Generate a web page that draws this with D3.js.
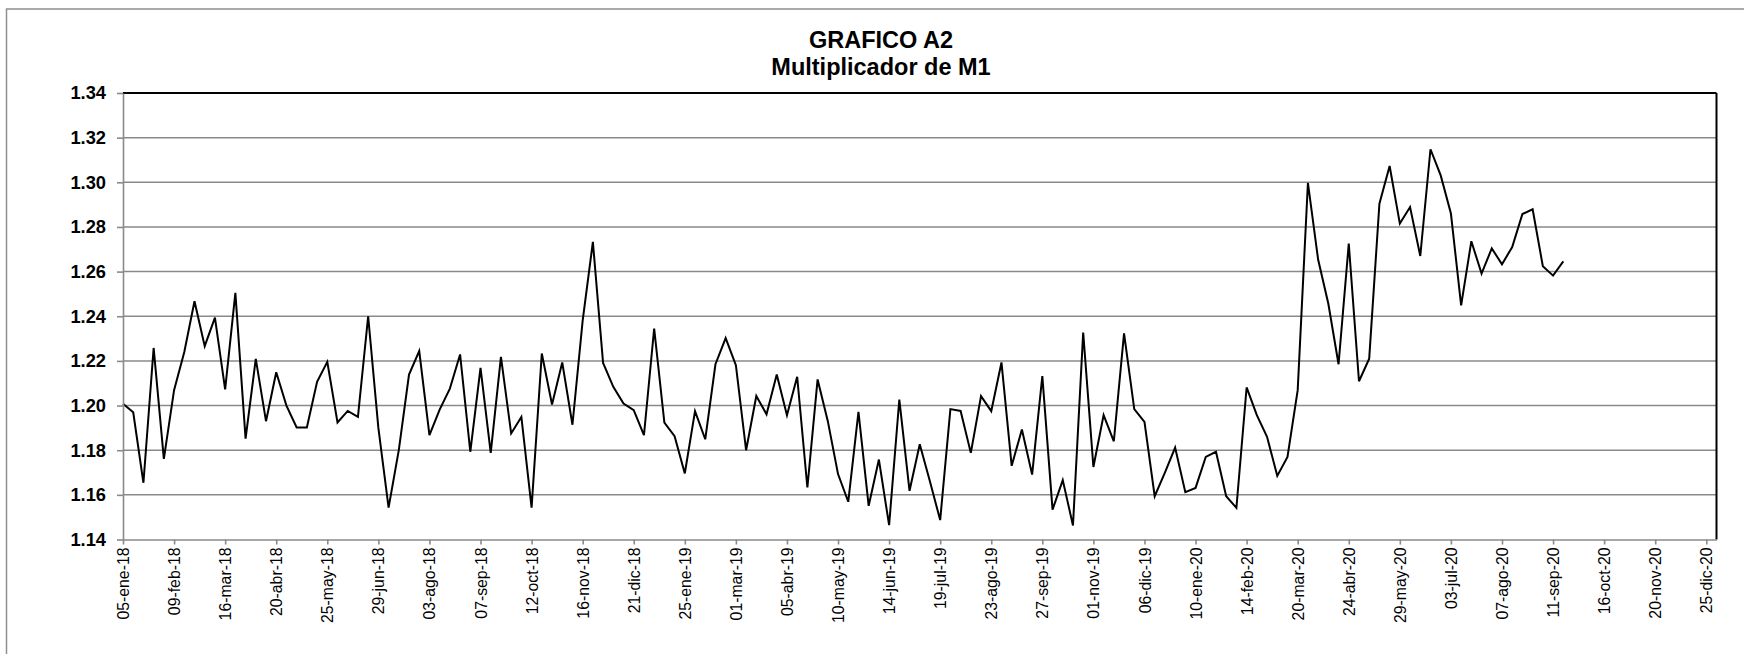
<!DOCTYPE html>
<html>
<head>
<meta charset="utf-8">
<script src="https://cdn.jsdelivr.net/npm/d3@7"></script>
<style>
    body { margin: 0; background: #fff; }
    #chart-area { width: 1744px; height: 654px; }
    text { font-family: Arial, "Liberation Sans", sans-serif; }
</style>
</head>
<body>
<div id="chart-area"></div>
<script>

// first week of the series, values are weekly (fridays)
let firstWeek = "2018-01-05";

// Multiplicador de M1
let multiplier = [
    1.2008, 1.1970, 1.1654, 1.2258, 1.1761, 1.2069, 1.2240, 1.2467, 1.2266, 1.2394,
    1.2072, 1.2505, 1.1852, 1.2209, 1.1930, 1.2149, 1.2000, 1.1902, 1.1902, 1.2106,
    1.2196, 1.1924, 1.1976, 1.1949, 1.2400, 1.1900, 1.1543, 1.1800, 1.2139, 1.2244,
    1.1867, 1.1982, 1.2076, 1.2229, 1.1793, 1.2169, 1.1788, 1.2218, 1.1875, 1.1949,
    1.1543, 1.2233, 1.2005, 1.2193, 1.1914, 1.2380, 1.2733, 1.2191, 1.2084, 1.2009,
    1.1979, 1.1867, 1.2345, 1.1924, 1.1863, 1.1696, 1.1975, 1.1849, 1.2185, 1.2302,
    1.2181, 1.1800, 1.2043, 1.1961, 1.2139, 1.1957, 1.2129, 1.1633, 1.2117, 1.1930,
    1.1693, 1.1569, 1.1972, 1.1551, 1.1758, 1.1464, 1.2027, 1.1618, 1.1827, 1.1660,
    1.1487, 1.1984, 1.1976, 1.1788, 1.2042, 1.1975, 1.2193, 1.1730, 1.1893, 1.1691,
    1.2132, 1.1534, 1.1666, 1.1463, 1.2327, 1.1725, 1.1957, 1.1840, 1.2323, 1.1984,
    1.1927, 1.1594, 1.1700, 1.1812, 1.1612, 1.1631, 1.1770, 1.1793, 1.1594, 1.1542,
    1.2081, 1.1957, 1.1860, 1.1685, 1.1770, 1.2069, 1.2997, 1.2654, 1.2456, 1.2185,
    1.2725, 1.2109, 1.2210, 1.2904, 1.3073, 1.2815, 1.2889, 1.2670, 1.3148, 1.3031,
    1.2860, 1.2449, 1.2736, 1.2591, 1.2704, 1.2633, 1.2710, 1.2858, 1.2879, 1.2624,
    1.2582, 1.2646
];

// x axis tick labels (every five weeks)
let xTickLabels = [
    "05-ene-18", "09-feb-18", "16-mar-18", "20-abr-18", "25-may-18", "29-jun-18",
    "03-ago-18", "07-sep-18", "12-oct-18", "16-nov-18", "21-dic-18", "25-ene-19",
    "01-mar-19", "05-abr-19", "10-may-19", "14-jun-19", "19-jul-19", "23-ago-19",
    "27-sep-19", "01-nov-19", "06-dic-19", "10-ene-20", "14-feb-20", "20-mar-20",
    "24-abr-20", "29-may-20", "03-jul-20", "07-ago-20", "11-sep-20", "16-oct-20",
    "20-nov-20", "25-dic-20"
];

let yTicks = [1.14, 1.16, 1.18, 1.20, 1.22, 1.24, 1.26, 1.28, 1.30, 1.32, 1.34];

let titleLines = ["GRAFICO A2", "Multiplicador de M1"];


/* * * * * * * * * * * * * *
*      class LineVis       *
* * * * * * * * * * * * * */

class LineVis {

    constructor(parentElement){
        this.parentElement = parentElement;
        this.initVis()
    }

    initVis(){
        let vis = this;

        vis.margin = {top: 93, right: 27.5, bottom: 114.5, left: 123};
        vis.totalWidth = 1744;
        vis.totalHeight = 654;
        vis.width = vis.totalWidth - vis.margin.left - vis.margin.right;
        vis.height = vis.totalHeight - vis.margin.top - vis.margin.bottom;

        vis.root = d3.select("#" + vis.parentElement).append("svg")
            .attr("width", vis.totalWidth)
            .attr("height", vis.totalHeight);

        // outer frame of the chart object
        vis.root.append("rect")
            .attr("x", 6.5)
            .attr("y", 9)
            .attr("width", 1800)
            .attr("height", 700)
            .attr("fill", "#fff")
            .attr("stroke", "#8f8f8f")
            .attr("stroke-width", 1.5);

        // title
        vis.root.append("text")
            .attr("class", "title")
            .attr("text-anchor", "middle")
            .attr("font-weight", "bold")
            .attr("font-size", 23.5)
            .selectAll("tspan")
            .data(titleLines)
            .enter()
            .append("tspan")
            .attr("x", 881)
            .attr("y", (d, i) => 48 + i * 26.5)
            .text(d => d);

        vis.svg = vis.root.append("g")
            .attr("transform", `translate (${vis.margin.left}, ${vis.margin.top})`);

        // scales
        vis.x = d3.scaleUtc()
            .domain([d3.utcParse("%Y-%m-%d")(firstWeek), new Date(Date.UTC(2021, 0, 1))])
            .range([0, vis.width]);

        vis.y = d3.scaleLinear()
            .domain([1.14, 1.34])
            .range([vis.height, 0]);

        vis.gridGroup = vis.svg.append("g").attr("class", "grid");
        vis.lineGroup = vis.svg.append("g").attr("class", "line");
        vis.xAxisGroup = vis.svg.append("g")
            .attr("class", "x-axis")
            .attr("transform", `translate(0, ${vis.height})`);
        vis.yAxisGroup = vis.svg.append("g").attr("class", "y-axis");

        this.wrangleData();
    }

    wrangleData(){
        let vis = this;

        let start = d3.utcParse("%Y-%m-%d")(firstWeek);
        vis.displayData = multiplier.map((v, i) => {
            return {date: d3.utcDay.offset(start, 7 * i), value: v};
        });

        let months = {ene: 0, feb: 1, mar: 2, abr: 3, may: 4, jun: 5, jul: 6, ago: 7, sep: 8, oct: 9, nov: 10, dic: 11};
        vis.tickDates = xTickLabels.map(s => {
            let p = s.split("-");
            return new Date(Date.UTC(2000 + +p[2], months[p[1]], +p[0]));
        });

        vis.updateVis()
    }

    updateVis(){
        let vis = this;

        // horizontal gridlines
        vis.gridGroup.selectAll("line")
            .data(yTicks.slice(1))
            .enter()
            .append("line")
            .attr("x1", 0)
            .attr("x2", vis.width)
            .attr("y1", d => vis.y(d))
            .attr("y2", d => vis.y(d))
            .attr("stroke", d => d === 1.34 ? "#000" : "#8a8a8a")
            .attr("stroke-width", d => d === 1.34 ? 2 : 1.5);

        // right border of plot area
        vis.gridGroup.append("line")
            .attr("x1", vis.width)
            .attr("x2", vis.width)
            .attr("y1", 0)
            .attr("y2", vis.height)
            .attr("stroke", "#000")
            .attr("stroke-width", 2);

        // series line
        let line = d3.line()
            .x(d => vis.x(d.date))
            .y(d => vis.y(d.value));

        vis.lineGroup.append("path")
            .datum(vis.displayData)
            .attr("d", line)
            .attr("fill", "none")
            .attr("stroke", "#000")
            .attr("stroke-width", 2)
            .attr("stroke-linejoin", "miter");

        // axes
        let labelByTime = new Map(vis.tickDates.map((d, i) => [d.getTime(), xTickLabels[i]]));

        let xAxis = d3.axisBottom(vis.x)
            .tickValues(vis.tickDates)
            .tickSize(5)
            .tickSizeOuter(0)
            .tickFormat(d => labelByTime.get(d.getTime()));

        let yAxis = d3.axisLeft(vis.y)
            .tickValues(yTicks)
            .tickSize(6)
            .tickSizeOuter(0)
            .tickPadding(11)
            .tickFormat(d3.format(".2f"));

        vis.xAxisGroup.call(xAxis);
        vis.yAxisGroup.call(yAxis);

        vis.svg.selectAll(".domain, .tick line")
            .attr("stroke", "#8a8a8a")
            .attr("stroke-width", 1.6);

        vis.xAxisGroup.selectAll("text")
            .attr("font-size", 15.8)
            .attr("fill", "#000")
            .attr("text-anchor", "end")
            .attr("transform", "rotate(-90)")
            .attr("x", -8)
            .attr("y", 0)
            .attr("dy", "0.35em");

        vis.yAxisGroup.selectAll("text")
            .attr("font-size", 18.3)
            .attr("font-weight", "bold")
            .attr("fill", "#000");
    }
}

let lineVis = new LineVis("chart-area");

</script>
</body>
</html>
